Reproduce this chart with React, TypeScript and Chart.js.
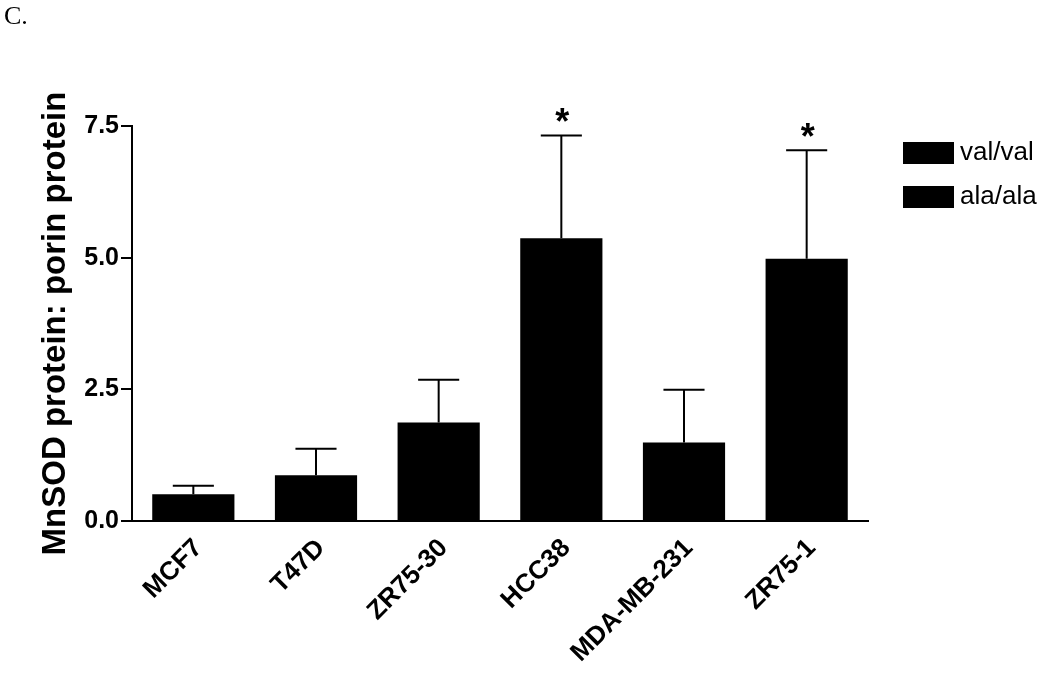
import React, { useEffect, useRef } from "react";
import { Chart, registerables } from "chart.js";

Chart.register(...registerables);

const categories = ["MCF7", "T47D", "ZR75-30", "HCC38", "MDA-MB-231", "ZR75-1"];
const means = [0.51, 0.87, 1.87, 5.37, 1.49, 4.98];
const upperErr = [0.67, 1.37, 2.68, 7.32, 2.49, 7.04];
const significant = [false, false, false, true, false, true];
const yTicks = [0, 2.5, 5.0, 7.5];
const legendLabels = ["val/val", "ala/ala"];
const yTitle = "MnSOD protein: porin protein";
const panelLabel = "C.";

const SANS = "'Liberation Sans', Arial, sans-serif";

export default function App() {
  const ref = useRef<HTMLCanvasElement | null>(null);

  useEffect(() => {
    if (!ref.current) return;

    const errorBars = {
      id: "errorBars",
      afterDatasetsDraw(chart: any) {
        const ctx = chart.ctx;
        const meta = chart.getDatasetMeta(0);
        const y = chart.scales.y;
        ctx.save();
        ctx.strokeStyle = "#000";
        ctx.lineWidth = 2;
        meta.data.forEach((bar: any, i: number) => {
          const x = bar.x;
          const top = bar.y;
          const ey = y.getPixelForValue(upperErr[i]);
          const half = bar.width * 0.25;
          ctx.beginPath();
          ctx.moveTo(x, top);
          ctx.lineTo(x, ey);
          ctx.moveTo(x - half, ey);
          ctx.lineTo(x + half, ey);
          ctx.stroke();
          if (significant[i]) {
            ctx.fillStyle = "#000";
            ctx.font = `bold 36px ${SANS}`;
            ctx.textAlign = "center";
            ctx.textBaseline = "alphabetic";
            ctx.fillText("*", x + 1, ey - 1);
          }
        });
        ctx.restore();
      },
    };

    const customLegend = {
      id: "customLegend",
      afterDraw(chart: any) {
        const ctx = chart.ctx;
        ctx.save();
        ctx.fillStyle = "#000";
        ctx.font = `26px ${SANS}`;
        ctx.textAlign = "left";
        ctx.textBaseline = "middle";
        const boxX = 903;
        const rows = [142, 186];
        legendLabels.forEach((lab, i) => {
          ctx.fillRect(boxX, rows[i], 51, 22);
          ctx.fillText(lab, 960, rows[i] + 11);
        });
        ctx.restore();
      },
    };

    const chart = new Chart(ref.current, {
      type: "bar",
      data: {
        labels: categories,
        datasets: [
          {
            data: means,
            backgroundColor: "#000",
            borderColor: "#000",
            borderWidth: 0,
            categoryPercentage: 1,
            barPercentage: 0.67,
          },
        ],
      },
      options: {
        animation: false,
        responsive: false,
        maintainAspectRatio: false,
        layout: { padding: { top: 126, right: 182, left: 0, bottom: 0 } },
        plugins: {
          legend: { display: false },
          tooltip: { enabled: false },
        },
        scales: {
          x: {
            grid: { display: false, drawTicks: false },
            border: { display: true, color: "#000", width: 2 },
            ticks: {
              color: "#000",
              font: { family: SANS, size: 26, weight: "bold" },
              minRotation: 45,
              maxRotation: 45,
              padding: 12,
              labelOffset: 5,
              autoSkip: false,
            },
            afterFit(scale: any) {
              scale.height = 155;
            },
          },
          y: {
            min: 0,
            max: 7.5,
            afterBuildTicks(scale: any) {
              scale.ticks = yTicks.map((v) => ({ value: v }));
            },
            grid: {
              display: true,
              drawOnChartArea: false,
              drawTicks: true,
              tickLength: 11,
              color: "#000",
              lineWidth: 2,
            },
            border: { display: true, color: "#000", width: 2 },
            ticks: {
              color: "#000",
              font: { family: SANS, size: 25, weight: "bold" },
              padding: 2,
              callback: (v: any) => Number(v).toFixed(1),
            },
            title: {
              display: true,
              text: yTitle,
              color: "#000",
              font: { family: SANS, size: 33, weight: "bold" },
              padding: { top: 36, bottom: 0 },
            },
            afterFit(scale: any) {
              scale.width = 132;
            },
          },
        },
      },
      plugins: [errorBars, customLegend],
    });

    return () => chart.destroy();
  }, []);

  return (
    <div style={{ position: "absolute", left: 0, top: 0, width: 1050, height: 676, background: "#fff" }}>
      <div
        style={{
          position: "absolute",
          left: 4,
          top: 0,
          fontFamily: "'Liberation Serif', 'Times New Roman', serif",
          fontSize: 26,
          lineHeight: "32px",
          color: "#000",
        }}
      >
        {panelLabel}
      </div>
      <canvas ref={ref} width={1050} height={676} style={{ display: "block" }} />
    </div>
  );
}
